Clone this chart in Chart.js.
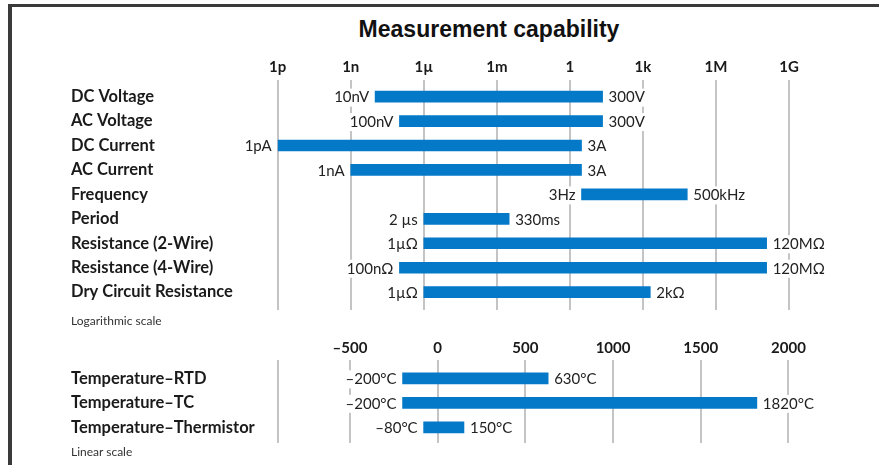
<!DOCTYPE html>
<html>
<head>
<meta charset="utf-8">
<script src="https://cdn.jsdelivr.net/npm/chart.js@4"></script>
<style>
  body { margin: 0; background: #fff; width: 879px; height: 465px; overflow: hidden; position: relative; }
  #frame { position: absolute; left: 8px; top: 4px; right: -10px; bottom: -10px; border-left: 4px solid #3a3a3a; border-top: 3px solid #3a3a3a; }
  #title { position: absolute; top: 18px; left: 489px; transform: translateX(-50%); font: bold 23px "Liberation Sans", Arial, sans-serif; line-height: 23px; color: #111; white-space: nowrap; }
  .note { position: absolute; left: 71px; font: 12px Lato, sans-serif; line-height: 14px; color: #333; }
  canvas { position: absolute; left: 0; }
</style>
</head>
<body>
<div id="frame"></div>
<div id="title">Measurement capability</div>
<canvas id="logChart" width="879" height="290" style="top:40px"></canvas>
<div class="note" style="top:314px">Logarithmic scale</div>
<canvas id="linChart" width="879" height="135" style="top:330px"></canvas>
<div class="note" style="top:445px">Linear scale</div>
<script>
// ডেটা: লগারিদমিক অংশ
const logCategories = ['DC Voltage', 'AC Voltage', 'DC Current', 'AC Current', 'Frequency', 'Period',
  'Resistance (2-Wire)', 'Resistance (4-Wire)', 'Dry Circuit Resistance'];
const logStart = [1e-8, 1e-7, 1e-12, 1e-9, 3, 1e-6, 1e-6, 1e-7, 1e-6];
const logEnd = [22, 22, 3, 3, 66000, 0.0032, 1.2e8, 1.2e8, 2000];
const logLowLabels = ['10nV', '100nV', '1pA', '1nA', '3Hz', '2 µs', '1µΩ', '100nΩ', '1µΩ'];
const logHighLabels = ['300V', '300V', '3A', '3A', '500kHz', '330ms', '120MΩ', '120MΩ', '2kΩ'];
const logTickValues = [1e-12, 1e-9, 1e-6, 1e-3, 1, 1e3, 1e6, 1e9];
const logTickLabels = ['1p', '1n', '1µ', '1m', '1', '1k', '1M', '1G'];

// ডেটা: লিনিয়ার অংশ (তাপমাত্রা)
const tempCategories = ['Temperature–RTD', 'Temperature–TC', 'Temperature–Thermistor'];
const tempStart = [-200, -200, -80];
const tempEnd = [630, 1820, 150];
const tempLowLabels = ['–200°C', '–200°C', '–80°C'];
const tempHighLabels = ['630°C', '1820°C', '150°C'];
const tempTickValues = [-500, 0, 500, 1000, 1500, 2000];
const tempTickLabels = ['–500', '0', '500', '1000', '1500', '2000'];

const BAR_BLUE = '#0479c8';
const GRID_GREY = '#c4c4c4';

// বারের দুই পাশে লেবেল লেখার প্লাগইন
function rangeLabels(lowLabels, highLabels) {
  return {
    id: 'rangeLabels',
    afterDatasetsDraw(chart) {
      const ctx = chart.ctx;
      const meta = chart.getDatasetMeta(0);
      ctx.save();
      ctx.font = '15px Lato, sans-serif';
      ctx.textBaseline = 'middle';
      meta.data.forEach((bar, i) => {
        const left = Math.min(bar.base, bar.x);
        const right = Math.max(bar.base, bar.x);
        const y = bar.y + 1;
        const lw = ctx.measureText(lowLabels[i]).width;
        const hw = ctx.measureText(highLabels[i]).width;
        ctx.fillStyle = '#fff';
        ctx.fillRect(left - 6 - lw - 1, y - 9, lw + 2, 18);
        ctx.fillRect(right + 6 - 1, y - 9, hw + 2, 18);
        ctx.fillStyle = '#222';
        ctx.textAlign = 'right';
        ctx.fillText(lowLabels[i], left - 6, y);
        ctx.textAlign = 'left';
        ctx.fillText(highLabels[i], right + 6, y);
      });
      ctx.restore();
    }
  };
}

function rowAxis(categories, min, max) {
  return {
    type: 'linear',
    reverse: true,
    offset: false,
    min: min,
    max: max,
    afterBuildTicks: (scale) => { scale.ticks = categories.map((c, i) => ({ value: i })); },
    afterFit: (scale) => { scale.width = 206.7; },
    grid: { display: false, offset: false },
    border: { display: false },
    ticks: {
      crossAlign: 'far',
      padding: 0,
      autoSkip: false,
      color: '#1a1a1a',
      font: { family: 'Lato', size: 16.5, weight: 'bold' },
      callback: (value) => categories[value]
    }
  };
}

const commonOptions = {
  indexAxis: 'y',
  responsive: false,
  animation: false,
  devicePixelRatio: 1,
  plugins: { legend: { display: false }, tooltip: { enabled: false } }
};

// লগ স্কেল চার্ট
new Chart(document.getElementById('logChart').getContext('2d'), {
  type: 'bar',
  data: {
    labels: logCategories.map((c, i) => i),
    datasets: [{
      data: logStart.map((s, i) => [s, logEnd[i]]),
      backgroundColor: BAR_BLUE,
      borderWidth: 0,
      barThickness: 11
    }]
  },
  options: {
    ...commonOptions,
    layout: { padding: { left: 71, right: 16.9, top: 0, bottom: 20 } },
    scales: {
      x: {
        type: 'logarithmic',
        position: 'top',
        min: 1e-12,
        max: 1e12,
        afterBuildTicks: (scale) => { scale.ticks = logTickValues.map(v => ({ value: v })); },
        afterFit: (scale) => { scale.height = 40; },
        grid: { color: GRID_GREY, lineWidth: 2, drawTicks: false },
        border: { display: false },
        ticks: {
          padding: 4,
          maxRotation: 0,
          autoSkip: false,
          color: '#1a1a1a',
          font: { family: 'Lato', size: 15, weight: 'bold' },
          callback: (value, index) => logTickLabels[index]
        }
      },
      y: rowAxis(logCategories, -0.68, 8.73)
    }
  },
  plugins: [rangeLabels(logLowLabels, logHighLabels)]
});

// লিনিয়ার স্কেল চার্ট (বাম পাশের রেখার জন্য min-এও একটি গ্রিড)
const LIN_MIN = -912;
const LIN_MAX = 2420;
new Chart(document.getElementById('linChart').getContext('2d'), {
  type: 'bar',
  data: {
    labels: tempCategories.map((c, i) => i),
    datasets: [{
      data: tempStart.map((s, i) => [s, tempEnd[i]]),
      backgroundColor: BAR_BLUE,
      borderWidth: 0,
      barThickness: 11
    }]
  },
  options: {
    ...commonOptions,
    layout: { padding: { left: 71, right: 16.9, top: 0, bottom: 22 } },
    scales: {
      x: {
        type: 'linear',
        position: 'top',
        min: LIN_MIN,
        max: LIN_MAX,
        afterBuildTicks: (scale) => { scale.ticks = [LIN_MIN, ...tempTickValues].map(v => ({ value: v })); },
        afterFit: (scale) => { scale.height = 30; },
        grid: { color: GRID_GREY, lineWidth: 2, drawTicks: false },
        border: { display: false },
        ticks: {
          padding: 3,
          maxRotation: 0,
          autoSkip: false,
          color: '#1a1a1a',
          font: { family: 'Lato', size: 15, weight: 'bold' },
          callback: (value, index) => index === 0 ? '' : tempTickLabels[index - 1]
        }
      },
      y: rowAxis(tempCategories, -0.75, 2.64)
    }
  },
  plugins: [rangeLabels(tempLowLabels, tempHighLabels)]
});
</script>
</body>
</html>
